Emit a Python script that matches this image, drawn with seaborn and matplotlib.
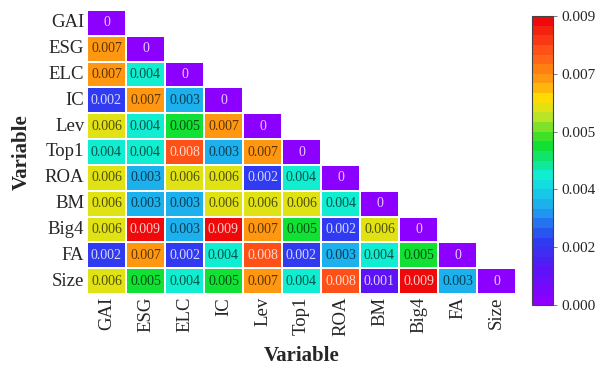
import numpy as np
import pandas as pd
import matplotlib
matplotlib.use("Agg")
import matplotlib.pyplot as plt
import seaborn as sns
from matplotlib.colors import LinearSegmentedColormap, to_rgb

variables = ["GAI", "ESG", "ELC", "IC", "Lev", "Top1", "ROA", "BM", "Big4", "FA", "Size"]

row_GAI = [0]
row_ESG = [0.007, 0]
row_ELC = [0.007, 0.004, 0]
row_IC = [0.002, 0.007, 0.003, 0]
row_Lev = [0.006, 0.004, 0.005, 0.007, 0]
row_Top1 = [0.004, 0.004, 0.008, 0.003, 0.007, 0]
row_ROA = [0.006, 0.003, 0.006, 0.006, 0.002, 0.004, 0]
row_BM = [0.006, 0.003, 0.003, 0.006, 0.006, 0.006, 0.004, 0]
row_Big4 = [0.006, 0.009, 0.003, 0.009, 0.007, 0.005, 0.002, 0.006, 0]
row_FA = [0.002, 0.007, 0.002, 0.004, 0.008, 0.002, 0.003, 0.004, 0.005, 0]
row_Size = [0.006, 0.005, 0.004, 0.005, 0.007, 0.004, 0.008, 0.001, 0.009, 0.003, 0]

cbar_ticks = [0.0, 0.0018, 0.0036, 0.0054, 0.0072, 0.009]

rows = [row_GAI, row_ESG, row_ELC, row_IC, row_Lev, row_Top1, row_ROA,
        row_BM, row_Big4, row_FA, row_Size]
n = len(variables)
mat = np.zeros((n, n))
for i, r in enumerate(rows):
    for j, v in enumerate(r):
        mat[i, j] = v
        mat[j, i] = v
df = pd.DataFrame(mat, index=variables, columns=variables)
mask = np.triu(np.ones((n, n), dtype=bool), k=1)
labels = np.array([["0" if v == 0 else f"{v:.3f}" for v in row] for row in mat])

cmap = LinearSegmentedColormap.from_list("rb", [
    (0.0, "#8B00FF"), (0.11, "#5A14F5"), (0.22, "#2A40F0"), (0.33, "#1EA6F0"),
    (0.44, "#10EEDC"), (0.56, "#10E028"), (0.66, "#C4E428"), (0.72, "#FFE000"),
    (0.78, "#FFA010"), (0.89, "#FF5418"), (1.0, "#EE0A0A")], N=30)

sns.set_theme(style="white")
plt.rcParams['font.family'] = ['Liberation Serif', 'DejaVu Serif']

fig = plt.figure(figsize=(6.05, 3.67), dpi=100)
ax = fig.add_axes([87/605, 1-294/367, 429/605, 284/367])
cax = fig.add_axes([532/605, 1-305/367, 21/605, 289/367])

sns.heatmap(df, mask=mask, cmap=cmap, vmin=0, vmax=0.009, ax=ax, cbar_ax=cax,
            linewidths=1.2, linecolor="white", annot=labels, fmt="",
            annot_kws={"fontsize": 10, "family": "Liberation Serif"},
            cbar_kws={"ticks": cbar_ticks})

vals = [mat[i, j] for i in range(n) for j in range(n) if not mask[i, j]]
light_vals = {0.0, 0.001, 0.002, 0.008, 0.009}
for t, v in zip(ax.texts, vals):
    c = np.array(to_rgb(cmap(v / 0.009)))
    if v in light_vals:
        col = c * 0.2 + 0.8
    else:
        col = c * 0.35
    t.set_color(tuple(col))

ax.set_xticklabels(variables, rotation=90, fontsize=13.5)
ax.set_yticklabels(variables, rotation=0, fontsize=13.5)
ax.tick_params(length=0, pad=2)
ax.set_xlabel("Variable", fontsize=15, fontweight="bold", labelpad=7)
ax.set_ylabel("Variable", fontsize=15, fontweight="bold", labelpad=9)

cbar = ax.collections[0].colorbar
cbar.ax.set_yticklabels([f"{t:.3f}" for t in cbar_ticks], fontsize=11)
cbar.ax.tick_params(right=True, length=3, width=0.6, color="#666666", pad=3)
cbar.outline.set_visible(True)
cbar.outline.set_edgecolor("#444444")
cbar.outline.set_linewidth(0.8)

fig.savefig("out.png", dpi=100)
